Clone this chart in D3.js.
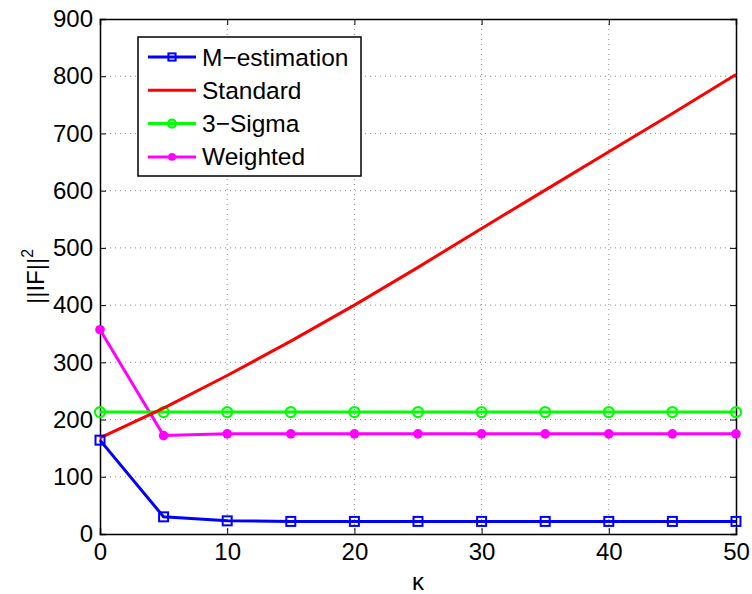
<!DOCTYPE html>
<html>
<head>
<meta charset="utf-8">
<script src="https://cdn.jsdelivr.net/npm/d3@7"></script>
<style>
  body { margin: 0; background: #fff; }
  text { font-family: "Liberation Sans", Arial, sans-serif; }
</style>
</head>
<body>
<svg id="svg" width="752" height="594"></svg>
<script>
// data
const kappa = [0, 5, 10, 15, 20, 25, 30, 35, 40, 45, 50];
const mEstimation = [164, 30, 23, 22, 22, 22, 22, 22, 22, 22, 22];
const standard = [168, 220, 277, 337, 400, 466, 534, 601, 668, 735, 803];
const threeSigma = [213, 213, 213, 213, 213, 213, 213, 213, 213, 213, 213];
const weighted = [357, 172, 175, 175, 175, 175, 175, 175, 175, 175, 175];
const xTicks = [0, 10, 20, 30, 40, 50];
const yTicks = [0, 100, 200, 300, 400, 500, 600, 700, 800, 900];

const series = [
  {name: 'M\u2212estimation', values: mEstimation, color: '#0000ff', marker: 'square'},
  {name: 'Standard', values: standard, color: '#ff0000', marker: null},
  {name: '3\u2212Sigma', values: threeSigma, color: '#00ff00', marker: 'circle'},
  {name: 'Weighted', values: weighted, color: '#ff00ff', marker: 'dot'}
];

const L = 100, R = 736, T = 19, B = 534;
const svg = d3.select('#svg');
const x = d3.scaleLinear().domain([0, 50]).range([L, R]);
const y = d3.scaleLinear().domain([0, 900]).range([B, T]);

// grid
const grid = svg.append('g').attr('stroke', '#888').attr('stroke-width', 1).attr('stroke-dasharray', '1,4');
xTicks.slice(1, -1).forEach(t => grid.append('line').attr('x1', x(t)).attr('x2', x(t)).attr('y1', T).attr('y2', B));
yTicks.slice(1, -1).forEach(t => grid.append('line').attr('x1', L).attr('x2', R).attr('y1', y(t)).attr('y2', y(t)));

// axes, ticks inward on all four sides
const ax = svg.append('g');
ax.append('g').attr('transform', 'translate(0,' + B + ')').call(d3.axisBottom(x).tickValues(xTicks).tickSize(-6).tickPadding(9));
ax.append('g').attr('transform', 'translate(0,' + T + ')').call(d3.axisTop(x).tickValues(xTicks).tickSize(-6).tickFormat(''));
ax.append('g').attr('transform', 'translate(' + L + ',0)').call(d3.axisLeft(y).tickValues(yTicks).tickSize(-6).tickPadding(7));
ax.append('g').attr('transform', 'translate(' + R + ',0)').call(d3.axisRight(y).tickValues(yTicks).tickSize(-6).tickFormat(''));
ax.selectAll('.domain').attr('stroke', '#000').attr('stroke-width', 1.5);
ax.selectAll('.tick line').attr('stroke', '#000');
ax.selectAll('.tick text').attr('font-size', 24).attr('fill', '#000').attr('font-family', '"Liberation Sans", Arial, sans-serif');

// lines
const line = d3.line().x((d, i) => x(kappa[i])).y(d => y(d));
function drawMarker(g, type, cx, cy, color, k) {
  if (type === 'square') {
    const h = 4.5 * k;
    g.append('rect').attr('x', cx - h).attr('y', cy - h).attr('width', 2 * h).attr('height', 2 * h)
      .attr('fill', 'none').attr('stroke', color).attr('stroke-width', 2);
  } else if (type === 'circle') {
    g.append('circle').attr('cx', cx).attr('cy', cy).attr('r', 5 * k)
      .attr('fill', 'none').attr('stroke', color).attr('stroke-width', 2.2);
  } else if (type === 'dot') {
    g.append('circle').attr('cx', cx).attr('cy', cy).attr('r', 4.8 * k).attr('fill', color);
  }
}
const plot = svg.append('g');
series.slice().reverse().forEach(s => {
  const g = plot.append('g');
  g.append('path').datum(s.values).attr('d', line).attr('fill', 'none')
    .attr('stroke', s.color).attr('stroke-width', 3);
  if (s.marker) s.values.forEach((v, i) => drawMarker(g, s.marker, x(kappa[i]), y(v), s.color, 1));
});

// legend
const lg = svg.append('g');
lg.append('rect').attr('x', 138).attr('y', 37).attr('width', 223).attr('height', 139)
  .attr('fill', '#fff').attr('stroke', '#000').attr('stroke-width', 1.5);
series.forEach((s, i) => {
  const ly = 57 + i * 33.3;
  lg.append('line').attr('x1', 148).attr('x2', 196).attr('y1', ly).attr('y2', ly)
    .attr('stroke', s.color).attr('stroke-width', 3);
  if (s.marker) drawMarker(lg, s.marker, 172, ly, s.color, 0.8);
  lg.append('text').attr('x', 202).attr('y', ly + 8.5).attr('font-size', 24.5).text(s.name);
});

// axis labels
svg.append('text').attr('x', 418).attr('y', 590).attr('text-anchor', 'middle')
  .attr('font-family', '"Liberation Serif", "Times New Roman", serif').attr('font-size', 24).text('\u03ba');
const yl = svg.append('text').attr('transform', 'translate(44,' + ((T + B) / 2) + ') rotate(-90)')
  .attr('text-anchor', 'middle').attr('font-size', 24);
yl.append('tspan').text('||IF||');
yl.append('tspan').attr('font-size', 16).attr('dy', -11).text('2');
</script>
</body>
</html>
